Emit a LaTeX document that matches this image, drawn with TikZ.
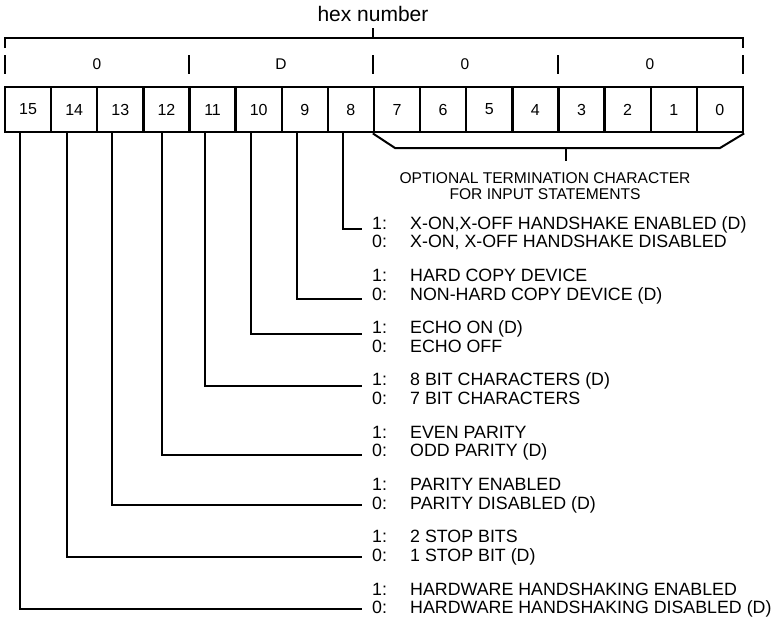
\documentclass[tikz,border=0pt]{standalone}
\usepackage{fontspec}
\setmainfont{Liberation Sans}
\begin{document}
\begin{tikzpicture}[x=1pt,y=-1pt,line join=miter,
  bitbox/.style={draw, line width=2.3pt, minimum width=46.125pt, minimum height=45.5pt, inner sep=0pt, font=\fontsize{16}{18}\selectfont},
  hexdig/.style={font=\fontsize{15.5}{17}\selectfont, inner sep=0pt},
  lbl/.style={anchor=base west, inner sep=0pt, font=\fontsize{17.8}{19}\selectfont},
  opttext/.style={anchor=base, inner sep=0pt, font=\fontsize{15.6}{17}\selectfont},
  wire/.style={line width=2pt}]
\useasboundingbox (0,0) rectangle (781,621);
% title
\node[font=\fontsize{21}{23}\selectfont, anchor=base, inner sep=0pt] (hex) at (373,21) {hex number};
% top bracket
\draw[wire] (5,48) -- (5,38) -- (743,38) -- (743,48);
\draw[wire] (373,38) -- (373,28);
% hex ticks
\foreach \x in {5,189,373,558,743} \draw[wire] (\x,55) -- (\x,74);
% hex digits
\node[hexdig] (h3) at (97,64.5) {0};
\node[hexdig] (h2) at (281,64.5) {D};
\node[hexdig] (h1) at (465,64.5) {0};
\node[hexdig] (h0) at (650,64.5) {0};
% bit boxes
\foreach \i in {15,14,...,0}
  \node[bitbox] (b\i) at ({5+46.125*(15-\i)+23.0625},109.5) {\raisebox{-2pt}{\i}};
% bottom bracket for bits 7..0
\draw[wire] (b7.south west) -- (395,148) -- (720,148) -- (b0.south east);
\coordinate (optc) at (566,148);
\draw[wire] (optc) -- ++(0,13);
\node[opttext] (opt1) at (545,183) {OPTIONAL TERMINATION CHARACTER};
\node[opttext] (opt2) at (545,199) {FOR INPUT STATEMENTS};
% labels
\foreach \b/\g/\one/\zero in {
  8/0/{X-ON,X-OFF HANDSHAKE ENABLED (D)}/{X-ON, X-OFF HANDSHAKE DISABLED},
  9/1/{HARD COPY DEVICE}/{NON-HARD COPY DEVICE (D)},
  10/2/{ECHO ON (D)}/{ECHO OFF},
  11/3/{8 BIT CHARACTERS (D)}/{7 BIT CHARACTERS},
  12/4/{EVEN PARITY}/{ODD PARITY (D)},
  13/5/{PARITY ENABLED}/{PARITY DISABLED (D)},
  14/6/{2 STOP BITS}/{1 STOP BIT (D)},
  15/7/{HARDWARE HANDSHAKING ENABLED}/{HARDWARE HANDSHAKING DISABLED (D)}} {
  \node[lbl] (k1\b) at (372,{229+52.3*\g}) {1:};
  \node[lbl] (t1\b) at (410,{229+52.3*\g}) {\one};
  \node[lbl] (k0\b) at (372,{247.7+52.3*\g}) {0:};
  \node[lbl] (t0\b) at (410,{247.7+52.3*\g}) {\zero};
}
% leader end points
\foreach \b/\y in {8/229,9/299,10/334,11/386,12/455,13/505,14/557,15/609}
  \coordinate (e\b) at (362,\y);
% leaders
\foreach \b/\s in {8/-8,9/-8,10/-8,11/-8,12/-4,13/-8,14/-7,15/-8}
  \draw[wire] ([xshift=\s pt]b\b.south) |- (e\b);
\end{tikzpicture}
\end{document}
